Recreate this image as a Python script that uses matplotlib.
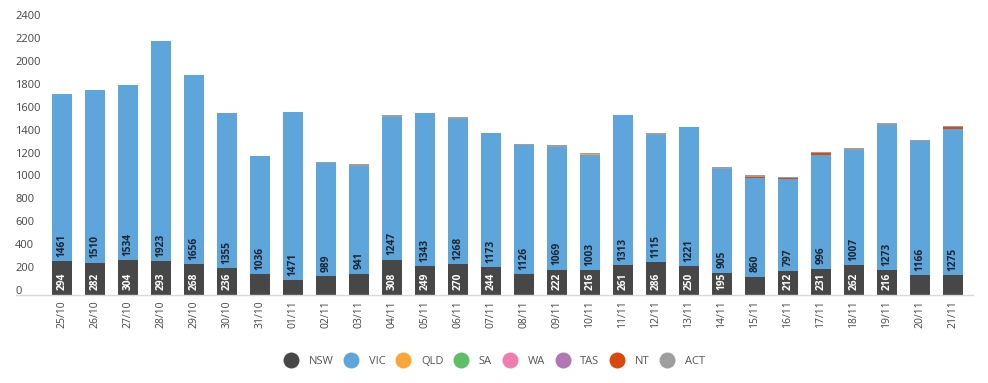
import matplotlib.pyplot as plt
import matplotlib.transforms as mtransforms
import numpy as np

plt.rcParams['font.family'] = ['Open Sans', 'DejaVu Sans']

dates = ['25/10', '26/10', '27/10', '28/10', '29/10', '30/10', '31/10',
         '01/11', '02/11', '03/11', '04/11', '05/11', '06/11', '07/11',
         '08/11', '09/11', '10/11', '11/11', '12/11', '13/11', '14/11',
         '15/11', '16/11', '17/11', '18/11', '19/11', '20/11', '21/11']

nsw = [294, 282, 304, 293, 268, 236, 180, 130, 165, 185, 308, 249, 270, 244,
       180, 222, 216, 261, 286, 250, 195, 160, 212, 231, 262, 216, 175, 175]
vic = [1461, 1510, 1534, 1923, 1656, 1355, 1036, 1471, 989, 941, 1247, 1343, 1268, 1173,
       1126, 1069, 1003, 1313, 1115, 1221, 905, 860, 797, 996, 1007, 1273, 1166, 1275]
qld = [0, 0, 0, 0, 0, 0, 0, 0, 0, 0, 0, 0, 0, 0,
       0, 0, 10, 0, 0, 0, 0, 0, 0, 0, 0, 0, 0, 0]
sa = [0] * 28
wa = [0] * 28
tas = [0] * 28
nt = [0, 0, 0, 0, 0, 0, 0, 0, 0, 0, 0, 0, 0, 0,
      0, 0, 0, 0, 0, 0, 0, 10, 15, 15, 0, 0, 0, 15]
act = [0, 0, 0, 0, 0, 0, 0, 0, 5, 15, 20, 0, 20, 0,
       15, 15, 15, 0, 15, 0, 15, 15, 10, 10, 15, 15, 15, 15]

states = ['NSW', 'VIC', 'QLD', 'SA', 'WA', 'TAS', 'NT', 'ACT']
series = [nsw, vic, qld, sa, wa, tas, nt, act]
colors = ['#474747', '#5da5da', '#faa43a', '#60bd68', '#f17cb0', '#b276b2', '#d9480f', '#9e9e9e']

fig = plt.figure(figsize=(9.88, 3.83), dpi=100)
ax = fig.add_axes([16 / 988, 1 - 295 / 383, 957 / 988, 274.8 / 383])

x = np.arange(len(dates))
bottom = np.zeros(len(dates))
for name, vals, col in zip(states, series, colors):
    ax.bar(x, vals, 0.6, bottom=bottom, color=col, label=name, linewidth=0)
    bottom += np.array(vals)

# value labels at base of segments
for i in x:
    if nsw[i] >= 190:
        ax.annotate(str(nsw[i]), (i, 0), xytext=(0, 3.6), textcoords='offset points',
                    rotation=90, ha='center', va='bottom', color='white',
                    fontsize=7.3, fontweight='bold')
    ax.annotate(str(vic[i]), (i, nsw[i]), xytext=(0, 3.2), textcoords='offset points',
                rotation=90, ha='center', va='bottom', color='#1c2430',
                fontsize=7.3, fontweight='bold')

ax.set_xlim(-46 / 33, (973 - 62) / 33)
ax.set_ylim(0, 2400)
ax.set_xticks(x)
ax.set_xticklabels(dates, rotation=90, fontsize=7.5, color='#444444')
ax.set_yticks(np.arange(0, 2401, 200))
ax.set_yticklabels([str(v) for v in range(0, 2401, 200)], fontsize=8, color='#444444')
ax.tick_params(axis='x', length=0, pad=3.6)
ax.tick_params(axis='y', length=0, pad=0.7)
offset = mtransforms.ScaledTranslation(0, 5 / 100, fig.dpi_scale_trans)
for lbl in ax.get_yticklabels():
    lbl.set_ha('left')
    lbl.set_transform(lbl.get_transform() + offset)

for s in ['top', 'right', 'left']:
    ax.spines[s].set_visible(False)
ax.spines['bottom'].set_color('#d9d9d9')
ax.spines['bottom'].set_linewidth(1)

handles = [plt.Line2D([], [], marker='o', linestyle='', markersize=11.5,
                      markerfacecolor=c, markeredgewidth=0) for c in colors]
leg = fig.legend(handles, states, loc='center', bbox_to_anchor=(0.5, 1 - 361 / 383),
                 ncol=8, frameon=False, fontsize=8, handlelength=1.4,
                 handletextpad=0.9, columnspacing=0.9)
for t in leg.get_texts():
    t.set_color('#555555')

fig.savefig('out.png', dpi=100)
